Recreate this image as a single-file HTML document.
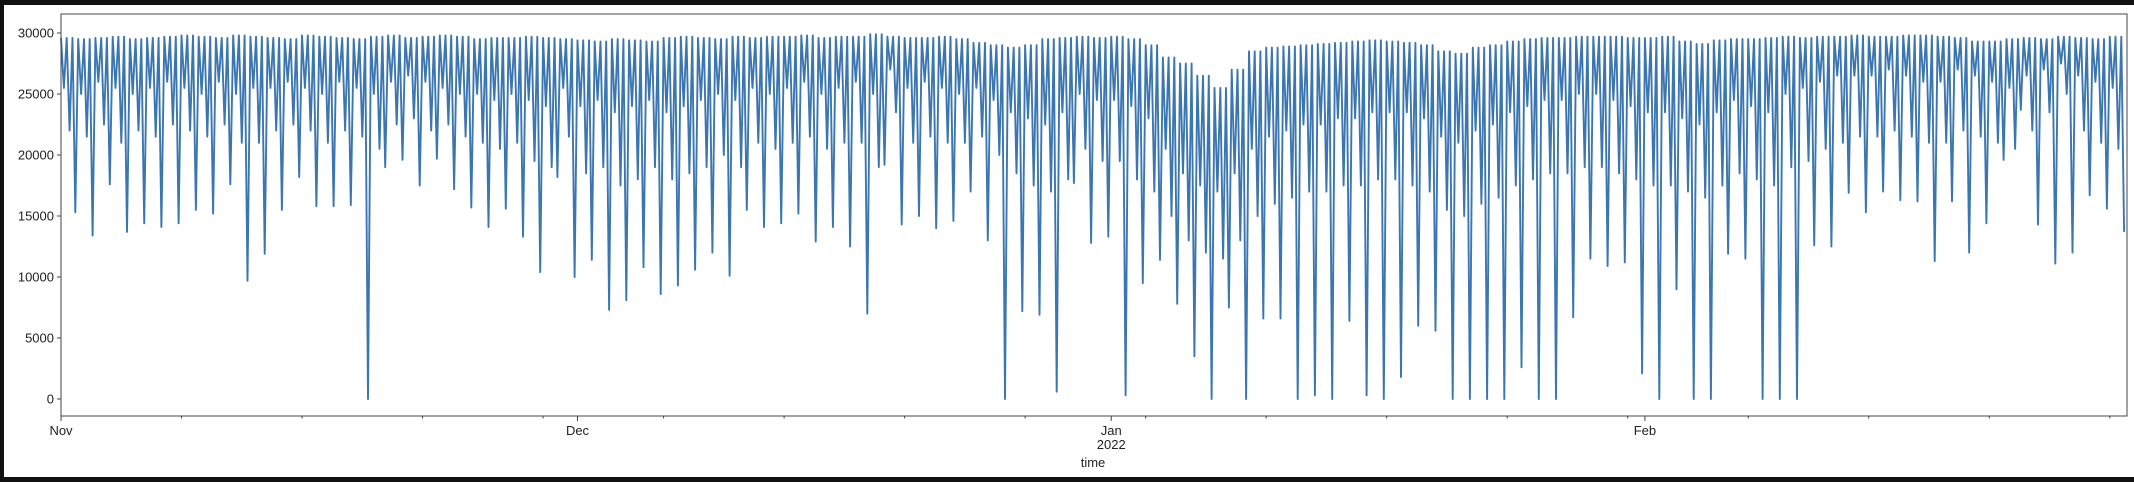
<!DOCTYPE html>
<html><head><meta charset="utf-8"><style>
html,body{margin:0;padding:0;background:#111;}
#fig{position:absolute;left:4px;top:5px;width:2130px;height:472px;background:#fff;}
svg{position:absolute;left:0;top:0;}
text{font-family:"Liberation Sans","DejaVu Sans",sans-serif;font-size:13px;fill:#222;}
</style></head><body>
<div id="fig"></div>
<svg id="chart" width="2134" height="482"></svg>
<script>
// per-day values (Nov 1 2021 .. Feb 28 2022), 120 days
const dayPeak = [29600,29500,29600,29700,29500,29600,29700,29800,29700,29600,29800,29700,29600,29500,
29800,29700,29600,29500,29700,29800,29600,29700,29800,29700,29500,29600,29600,29700,29600,29500,
29400,29300,29500,29400,29300,29600,29700,29600,29500,29700,29600,29700,29700,29800,29600,29700,
29700,29900,29700,29600,29600,29700,29500,29200,29000,28800,29000,29500,29600,29700,29600,29700,
29500,29000,28000,27500,26500,25500,27000,28500,28800,28900,29000,29100,29200,29300,29400,29300,
29200,29000,28500,28300,28800,29000,29300,29500,29600,29600,29700,29700,29700,29600,29600,29700,
29300,29100,29400,29500,29500,29600,29700,29600,29700,29700,29800,29700,29700,29800,29800,29700,
29600,29300,29300,29500,29600,29500,29700,29600,29500,29700];
const dayDip = [15300,13400,17600,13700,14400,14100,14400,15500,15200,17600,9700,11900,15500,18200,
15800,15800,15900,0,19000,19600,17500,19700,17200,15700,14100,15600,13300,10400,18200,
10000,11400,7300,8100,10800,8600,9300,10600,12000,10100,15500,14100,14400,15200,12900,14100,
12500,7000,19200,14300,15000,14000,14600,17000,13000,0,7200,6900,600,17700,12800,13300,
300,9500,11400,7800,3500,0,7500,0,6600,6600,0,300,0,6400,
300,0,1800,6000,5600,0,0,0,0,2600,0,0,6700,11500,10900,
11200,2100,0,9000,0,0,11900,11500,0,0,0,12600,12500,16900,15300,17000,
16300,16200,11300,16200,12000,14400,19600,23700,14300,11100,12000,16700,15600,13700];
const dayMid = [22000,21500,22500,21000,22000,21500,22500,22000,21500,22500,21000,21000,22000,22500,
22000,21000,22000,21500,20500,22500,23000,22000,22500,21500,21000,20500,21000,19500,19000,21500,
18500,19000,17500,18000,19000,18000,18500,19000,20000,19000,21000,20500,21000,21500,20500,21000,
21000,19000,23500,21000,21500,21000,21000,21500,20000,18500,17500,17000,18000,20500,19500,19500,
18000,17000,15000,13000,12000,11500,13000,15000,16000,16500,17000,17000,17500,17500,18000,18000,
17500,17000,15500,15000,16000,16500,17500,18000,18500,18500,19000,19000,18500,18000,17500,17500,
17000,16500,17500,18500,18000,17500,19000,19500,20500,21000,21500,21500,22000,21500,21000,21000,
22000,21500,21000,20500,22000,23500,25000,22000,21000,20500];
const dayShallow = [25500,25000,26000,25500,25000,25500,26000,25500,25000,26000,25000,25500,25500,26000,
25500,25000,26000,25500,25000,26000,26500,26000,25500,25000,25000,24500,25000,24500,24000,25500,
24000,24500,23500,24000,24500,23500,24000,24500,25000,24500,25500,25000,25500,26000,25000,25500,
26000,25000,27000,25500,26000,25500,25000,25500,24500,23500,23000,22500,23500,25000,24500,24500,
24000,23000,20500,18500,17500,17000,18500,20500,21500,22000,22500,22500,23000,23000,23500,23500,
23500,23000,21500,21000,22000,22500,23500,24000,24500,24500,25000,25000,24500,24000,23500,23500,
23000,22500,23500,24500,24000,23500,25000,25500,26000,26500,26500,26500,27000,26500,26000,26000,
27000,26500,26000,25500,26500,27000,27500,26500,26000,25500];
const yTicks = [0,5000,10000,15000,20000,25000,30000];
const monthLabels = ["Nov","Dec","Jan","Feb"];
const monthDays = [0,30,61,92];

const L=61,R=2127,T=14,B=416,NDAYS=120;
const xs = d => L + d*(R-L)/NDAYS;
const ys = v => 399 - v*366/30000;
const NS="http://www.w3.org/2000/svg";
const svg=document.getElementById('chart');
function mk(tag,attrs){const e=document.createElementNS(NS,tag);for(const k in attrs)e.setAttribute(k,attrs[k]);svg.appendChild(e);return e;}

// series
let pts=[];
for(let d=0;d<NDAYS;d++){
  const seq=[dayPeak[d],dayShallow[d],dayPeak[d],dayMid[d],dayPeak[d],dayDip[d]];
  for(let k=0;k<6;k++){ if(seq[k]===undefined) continue; pts.push(xs(d+k/6).toFixed(1)+','+ys(seq[k]).toFixed(1));}
}
const line=mk('polyline',{points:pts.join(' '),fill:'none',stroke:'#3b76b0','stroke-width':1.9,'stroke-linejoin':'round'});



// frame
const fr=mk('rect',{x:L,y:T,width:R-L,height:B-T,fill:'none',stroke:'#444','stroke-width':1});



// y ticks
yTicks.forEach(v=>{
  const y=ys(v);
  mk('line',{x1:L-4,x2:L,y1:y,y2:y,stroke:'#444'});
  const t=mk('text',{x:L-7,y:y+4.5,'text-anchor':'end'});t.textContent=v;
  
  
});
// minor x ticks weekly
for(let d=7;d<NDAYS;d+=7){mk('line',{x1:xs(d),x2:xs(d),y1:B,y2:B+2.5,stroke:'#444'});}
// major x ticks
monthDays.forEach((d,i)=>{
  mk('line',{x1:xs(d),x2:xs(d),y1:B,y2:B+5,stroke:'#444'});
  const t=mk('text',{x:xs(d),y:435,'text-anchor':'middle'});t.textContent=monthLabels[i];
  
  
});
const yr=mk('text',{x:xs(61),y:449,'text-anchor':'middle'});yr.textContent='2022';


const xt=mk('text',{x:1093,y:467,'text-anchor':'middle'});xt.textContent='time';


</script>
</body></html>
